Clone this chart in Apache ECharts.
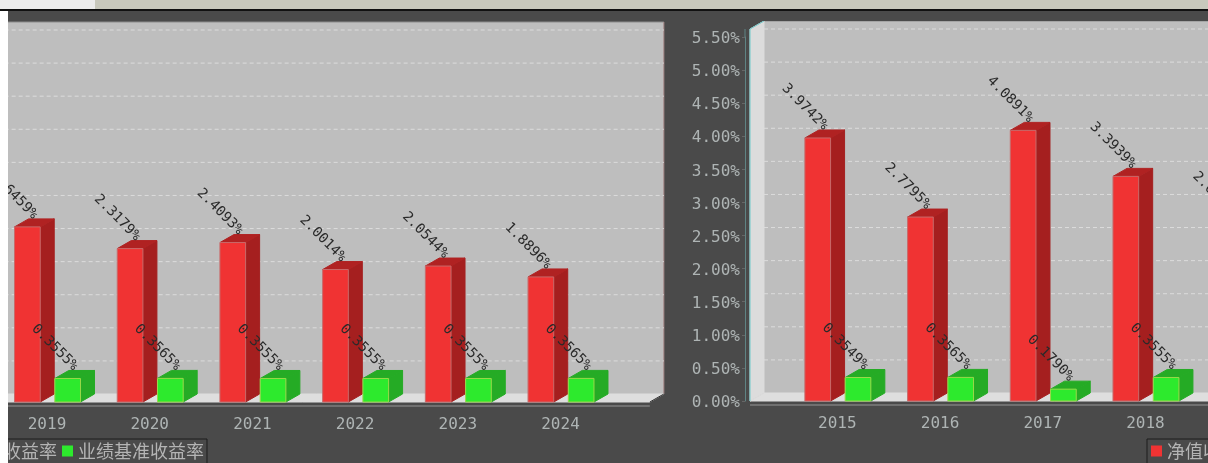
<!DOCTYPE html>
<html><head><meta charset="utf-8">
<style>html,body{margin:0;padding:0;background:#fff;overflow:hidden;width:1208px;height:463px}#c{position:absolute;left:-100px;top:0;width:1500px;height:463px}</style>
<script src="https://cdn.jsdelivr.net/npm/echarts@6/dist/echarts.min.js"></script>
</head><body><div id="c"></div>
<script>
const seriesNames = ['净值收益率', '业绩基准收益率'];
const leftYears = ['2019', '2020', '2021', '2022', '2023', '2024'];
const leftNav = [2.6459, 2.3179, 2.4093, 2.0014, 2.0544, 1.8896];
const leftBench = [0.3555, 0.3565, 0.3555, 0.3555, 0.3555, 0.3565];
const rightYears = ['2015', '2016', '2017', '2018', '2019'];
const rightNav = [3.9742, 2.7795, 4.0891, 3.3939, 2.6459];
const rightBench = [0.3549, 0.3565, 0.1790, 0.3555, 0.3555];
const yTicks = [0, 0.5, 1, 1.5, 2, 2.5, 3, 3.5, 4, 4.5, 5, 5.5];

const S = 100; // the canvas starts this far left of the window
const DX = 14, DY = -8;
const MONO = '"DejaVu Sans Mono", monospace';
const RED = {front:'#f03333', side:'#a51f1f', top:'#b02222', edge:'#c86a6a'};
const GREEN = {front:'#2dea2d', side:'#25ab25', top:'#25ab25', edge:'#9ad84a'};

function poly(points, fill, stroke){
  return {type:'polygon', shape:{points}, style:{fill, stroke: stroke || fill, lineWidth:1}};
}
function barRender(idx, pal){
  return function(params, api){
    const cat = api.value(0), v = api.value(1);
    const base = api.coord([cat, 0]);
    const top = api.coord([cat, v]);
    const band = api.size([1, 0])[0];
    const w = band * 0.25;
    const x0 = base[0] + (idx === 0 ? -band * 0.316 : band * 0.076);
    const x1 = x0 + w;
    const y0 = base[1], y1 = top[1];
    const label = v.toFixed(4) + '%';
    return {type:'group', children:[
      poly([[x1,y0],[x1+DX,y0+DY],[x1+DX,y1+DY],[x1,y1]], pal.side),
      poly([[x0,y1],[x0+DX,y1+DY],[x1+DX,y1+DY],[x1,y1]], pal.top),
      poly([[x0,y0],[x1,y0],[x1,y1],[x0,y1]], pal.front, pal.edge),
      {type:'text', z2:50, x:(x0+x1)/2+8, y:y1-10, rotation:-Math.PI/4, style:{
        text:label, align:'right', verticalAlign:'middle', fill:'#2a2a2a',
        font:'14px '+MONO}}
    ]};
  };
}
function backdrop(opts){
  return function(params, api){
    const cs = params.coordSys;
    const L = cs.x - opts.padL, R = cs.x + cs.width + opts.padR;
    const B = cs.y + cs.height, T = cs.y;
    const kids = [];
    kids.push({type:'rect', shape:{x:L+DX,y:T+DY*2,width:R-L,height:B-T-DY}, style:{fill:'#bebebe'}});
    kids.push({type:'line', shape:{x1:L+DX,y1:T+DY*2,x2:R+DX,y2:T+DY*2}, style:{stroke:'#8c8c8c', lineWidth:1}});
    kids.push({type:'line', shape:{x1:R+DX,y1:T+DY*2,x2:R+DX,y2:B+DY}, style:{stroke:opts.edge, lineWidth:1}});
    kids.push(poly([[L,B],[L+DX,B+DY],[R+DX,B+DY],[R,B]], '#dedede'));
    kids.push(poly([[L,T+DY],[L+DX,T+DY*2],[L+DX,B+DY],[L,B]], '#dcdcdc'));
    kids.push({type:'line', shape:{x1:L,y1:T+DY,x2:L,y2:B}, style:{stroke:'#6fc9c9', lineWidth:1}});
    kids.push({type:'line', shape:{x1:L,y1:T+DY,x2:L+DX,y2:T+DY*2}, style:{stroke:'#6fc9c9', lineWidth:1}});
    yTicks.forEach(function(t){
      if (t === 0) return;
      const y = api.coord([0, t])[1] + DY;
      kids.push({type:'line', shape:{x1:L+DX,y1:y,x2:R+DX,y2:y}, style:{stroke:'#dcdcdc', lineWidth:1, lineDash:[4,3]}});
    });
    kids.push({type:'line', shape:{x1:R,y1:B,x2:R+DX,y2:B+DY}, style:{stroke:'#333', lineWidth:1}});
    kids.push({type:'line', shape:{x1:L,y1:B+4,x2:R,y2:B+4}, style:{stroke:'#707070', lineWidth:2}});
    if (opts.axisExt) kids.push({type:'line', shape:{x1:L-5,y1:T+DY,x2:L-5,y2:T}, style:{stroke:'#5f8484', lineWidth:1}});
    return {type:'group', children:kids};
  };
}
function barSeries(gridIdx, name, values, idx, pal){
  return {name, type:'custom', coordinateSystem:'cartesian2d', xAxisIndex:gridIdx, yAxisIndex:gridIdx,
    z:5, clip:false, silent:true, itemStyle:{color:pal.front},
    data:values.map((v,i)=>[i,v]), renderItem:barRender(idx,pal), encode:{x:0,y:1}};
}
function backSeries(gridIdx, opts){
  return {name:'back', type:'custom', coordinateSystem:'cartesian2d', xAxisIndex:gridIdx, yAxisIndex:gridIdx,
    z:1, clip:false, silent:true, data:[[0,0]], renderItem:backdrop(opts), encode:{x:0,y:1}};
}
const xLabel = {color:'#aeb4b4', fontFamily:'DejaVu Sans Mono', fontSize:16, margin:15};
function legend(left){
  return {left:left+S, top:439, data:seriesNames, selectedMode:false, orient:'horizontal', itemWidth:11, itemHeight:11,
    itemGap:5, padding:[3,3,8,4], borderColor:'#1c1c1c', borderWidth:1, icon:'rect',
    textStyle:{color:'#b4b4b4', fontFamily:'"Noto Sans CJK SC"', fontSize:18}};
}
const chart = echarts.init(document.getElementById('c'), null, {renderer:'canvas'});
chart.setOption({
  animation:false, backgroundColor:'#4a4a4a',
  legend:[legend(-53), legend(1147)],
  grid:[
    {left:S-4.35, top:38, width:616.2, height:364},
    {left:S+786, top:37, width:513.5, height:364}
  ],
  xAxis:[
    {type:'category', gridIndex:0, data:leftYears, axisLine:{show:false}, axisTick:{show:false}, axisLabel:xLabel},
    {type:'category', gridIndex:1, data:rightYears, axisLine:{show:false}, axisTick:{show:false}, axisLabel:xLabel}
  ],
  yAxis:[
    {type:'value', gridIndex:0, min:0, max:5.5, interval:0.5, show:false, splitLine:{show:false}},
    {type:'value', gridIndex:1, min:0, max:5.5, interval:0.5, offset:41, position:'left',
      axisLine:{show:true, lineStyle:{color:'#5f8484'}}, axisTick:{show:true, length:3, lineStyle:{color:'#666'}},
      splitLine:{show:false},
      axisLabel:{margin:5, formatter:v=>'{a|'+v.toFixed(2)+'%}',
        rich:{a:{color:'#aeb4b4', fontFamily:'DejaVu Sans Mono', fontSize:16, padding:[4,0,0,0]}}}}
  ],
  series:[
    backSeries(0,{padL:40,padR:38,edge:'#a88a8a'}),
    backSeries(1,{padL:36,padR:60,edge:'#8c8c8c',axisExt:true}),
    barSeries(0,seriesNames[0],leftNav,0,RED),
    barSeries(0,seriesNames[1],leftBench,1,GREEN),
    barSeries(1,seriesNames[0],rightNav,0,RED),
    barSeries(1,seriesNames[1],rightBench,1,GREEN)
  ],
  graphic:[
    {type:'rect', z:100, shape:{x:0,y:0,width:S+8,height:463}, style:{fill:'#fff'}},
    {type:'rect', z:100, shape:{x:0,y:0,width:S+95,height:9}, style:{fill:'#ececec'}},
    {type:'rect', z:100, shape:{x:S+95,y:0,width:1300,height:9}, style:{fill:'#c8c8bc'}},
    {type:'rect', z:100, shape:{x:S,y:9,width:1400,height:2}, style:{fill:'#111'}},
    {type:'rect', z:100, shape:{x:S+8,y:11,width:1400,height:10}, style:{fill:'#4a4a4a'}}
  ]
});
</script></body></html>
